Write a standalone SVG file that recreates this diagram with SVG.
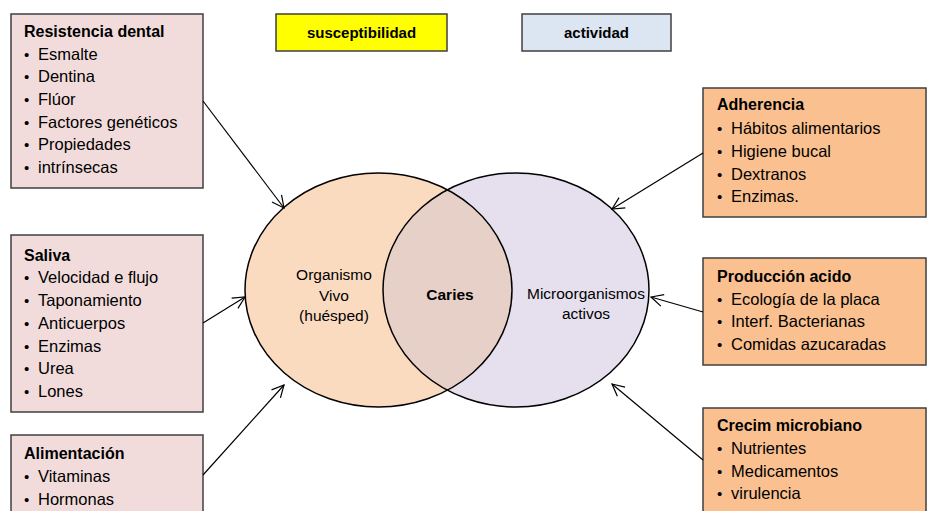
<svg xmlns="http://www.w3.org/2000/svg" width="927" height="511" viewBox="0 0 927 511">
  <style>
    text { font-family: "Liberation Sans", Arial, sans-serif; fill: #000; }
    .title { font-size: 16px; font-weight: bold; }
    .head { font-size: 15px; font-weight: bold; }
    .item { font-size: 16.5px; }
    .bul { font-size: 15px; }
    .lbl { font-size: 15.5px; }
    .boxL { fill: #F2DCDB; stroke: #3F3F3F; stroke-width: 1.5; }
    .boxR { fill: #FAC090; stroke: #3F3F3F; stroke-width: 1.5; }
    .conn { stroke: #000; stroke-width: 1.2; fill: none; marker-end: url(#arrow); }
    .ring { fill: none; stroke: #000; stroke-width: 1.5; }
  </style>
  <defs>
    <marker id="arrow" viewBox="0 0 14 14" refX="13" refY="7" markerWidth="14" markerHeight="14" markerUnits="userSpaceOnUse" orient="auto">
      <path d="M1,1 L13,7 L1,13" fill="none" stroke="#000" stroke-width="1.2"/>
    </marker>
    <clipPath id="leftClip">
      <ellipse cx="378.5" cy="290" rx="133.5" ry="117"/>
    </clipPath>
  </defs>

  <!-- header labels -->
  <g id="susceptibilidad">
    <rect x="276" y="14" width="171" height="37" fill="#FFFF00" stroke="#3F3F3F" stroke-width="1.5"/>
    <text class="head" x="361.5" y="37.5" text-anchor="middle">susceptibilidad</text>
  </g>
  <g id="actividad">
    <rect x="522" y="14" width="149" height="37" fill="#DCE6F2" stroke="#3F3F3F" stroke-width="1.5"/>
    <text class="head" x="596.5" y="37.5" text-anchor="middle">actividad</text>
  </g>

  <!-- overlapping host / microorganism circles -->
  <g id="organismo">
    <ellipse cx="378.5" cy="290" rx="133.5" ry="117" fill="#FBDBC0"/>
  </g>
  <g id="microorganismos">
    <ellipse cx="516" cy="290" rx="133" ry="117" fill="#E6E0EE"/>
  </g>
  <g id="caries">
    <ellipse cx="516" cy="290" rx="133" ry="117" fill="#E6D0C8" clip-path="url(#leftClip)"/>
  </g>
  <ellipse class="ring" cx="378.5" cy="290" rx="133.5" ry="117"/>
  <ellipse class="ring" cx="516" cy="290" rx="133" ry="117"/>
  <text class="lbl" x="334" y="280" text-anchor="middle">Organismo</text>
  <text class="lbl" x="334" y="301" text-anchor="middle">Vivo</text>
  <text class="lbl" x="334" y="321" text-anchor="middle">(huésped)</text>
  <text class="lbl" x="450" y="300" text-anchor="middle" font-weight="bold">Caries</text>
  <text class="lbl" x="586" y="299" text-anchor="middle">Microorganismos</text>
  <text class="lbl" x="586" y="319" text-anchor="middle">activos</text>

  <!-- host factors -->
  <g id="resistencia">
    <rect class="boxL" x="11" y="14" width="192" height="174"/>
    <text class="title" x="24" y="37">Resistencia dental</text>
    <g class="bul">
      <text x="24" y="60">•</text><text x="24" y="82">•</text><text x="24" y="105">•</text>
      <text x="24" y="128">•</text><text x="24" y="150">•</text><text x="24" y="173">•</text>
    </g>
    <text class="item" x="38" y="60">Esmalte</text>
    <text class="item" x="38" y="82">Dentina</text>
    <text class="item" x="38" y="105">Flúor</text>
    <text class="item" x="38" y="128">Factores genéticos</text>
    <text class="item" x="38" y="150">Propiedades</text>
    <text class="item" x="38" y="173">intrínsecas</text>
  </g>
  <g id="saliva">
    <rect class="boxL" x="11" y="235" width="192" height="177"/>
    <text class="title" x="24" y="261">Saliva</text>
    <g class="bul">
      <text x="24" y="283">•</text><text x="24" y="306">•</text><text x="24" y="329">•</text>
      <text x="24" y="352">•</text><text x="24" y="374">•</text><text x="24" y="397">•</text>
    </g>
    <text class="item" x="38" y="283">Velocidad e flujo</text>
    <text class="item" x="38" y="306">Taponamiento</text>
    <text class="item" x="38" y="329">Anticuerpos</text>
    <text class="item" x="38" y="352">Enzimas</text>
    <text class="item" x="38" y="374">Urea</text>
    <text class="item" x="38" y="397">Lones</text>
  </g>
  <g id="alimentacion">
    <rect class="boxL" x="11" y="435" width="192" height="90"/>
    <text class="title" x="24" y="459">Alimentación</text>
    <g class="bul">
      <text x="24" y="482">•</text><text x="24" y="505">•</text>
    </g>
    <text class="item" x="38" y="482">Vitaminas</text>
    <text class="item" x="38" y="505">Hormonas</text>
  </g>

  <!-- microbial factors -->
  <g id="adherencia">
    <rect class="boxR" x="703" y="88" width="223" height="129"/>
    <text class="title" x="717" y="110">Adherencia</text>
    <g class="bul">
      <text x="717" y="134">•</text><text x="717" y="157">•</text>
      <text x="717" y="180">•</text><text x="717" y="202">•</text>
    </g>
    <text class="item" x="731" y="134">Hábitos alimentarios</text>
    <text class="item" x="731" y="157">Higiene bucal</text>
    <text class="item" x="731" y="180">Dextranos</text>
    <text class="item" x="731" y="202">Enzimas.</text>
  </g>
  <g id="produccion">
    <rect class="boxR" x="703" y="258" width="223" height="107"/>
    <text class="title" x="717" y="282">Producción acido</text>
    <g class="bul">
      <text x="717" y="305">•</text><text x="717" y="327">•</text><text x="717" y="350">•</text>
    </g>
    <text class="item" x="731" y="305">Ecología de la placa</text>
    <text class="item" x="731" y="327">Interf. Bacterianas</text>
    <text class="item" x="731" y="350">Comidas azucaradas</text>
  </g>
  <g id="crecimiento">
    <rect class="boxR" x="703" y="408" width="223" height="120"/>
    <text class="title" x="717" y="431">Crecim microbiano</text>
    <g class="bul">
      <text x="717" y="454">•</text><text x="717" y="477">•</text><text x="717" y="499">•</text>
    </g>
    <text class="item" x="731" y="454">Nutrientes</text>
    <text class="item" x="731" y="477">Medicamentos</text>
    <text class="item" x="731" y="499">virulencia</text>
  </g>

  <!-- connectors -->
  <g id="connectors">
    <line class="conn" x1="203" y1="101" x2="284" y2="208"/>
    <line class="conn" x1="203" y1="323" x2="245" y2="297"/>
    <line class="conn" x1="203" y1="475" x2="284" y2="385"/>
    <line class="conn" x1="703" y1="153" x2="612" y2="209"/>
    <line class="conn" x1="703" y1="312" x2="651" y2="297"/>
    <line class="conn" x1="703" y1="460" x2="612" y2="384"/>
  </g>
</svg>
